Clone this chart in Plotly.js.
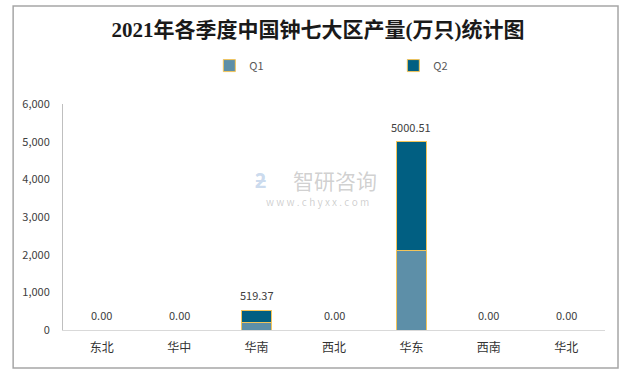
<!DOCTYPE html>
<html>
<head>
<meta charset="utf-8">
<script src="https://cdn.plot.ly/plotly-3.0.1.min.js"></script>
<style>html,body{margin:0;padding:0;background:#fff;}#chart{width:636px;height:373px;}</style>
</head>
<body>
<div id="chart"></div>
<script>
const regions = ['东北', '华中', '华南', '西北', '华东', '西南', '华北'];
const q1 = [0, 0, 190, 0, 2100, 0, 0];
const q2 = [0, 0, 329.37, 0, 2900.51, 0, 0];
const totals = [0, 0, 519.37, 0, 5000.51, 0, 0];
const yTicks = [0, 1000, 2000, 3000, 4000, 5000, 6000];

const sansFont = 'Noto Sans CJK SC, Noto Sans, sans-serif';

const traces = [
  {
    type: 'bar', name: 'Q1', x: regions, y: q1,
    marker: {color: '#5d8fa8', line: {color: '#f2c45a', width: 1}},
    hoverinfo: 'skip'
  },
  {
    type: 'bar', name: 'Q2', x: regions, y: q2,
    marker: {color: '#015f82', line: {color: '#f2c45a', width: 1}},
    hoverinfo: 'skip'
  }
];

const labelAnnotations = regions.map((r, i) => ({
  xref: 'x', yref: 'y', x: r, y: totals[i],
  text: totals[i].toFixed(2), showarrow: false,
  xanchor: 'center', yanchor: 'middle', yshift: 15,
  font: {family: sansFont, size: 11, color: '#404040'}
}));

const layout = {
  width: 636, height: 373,
  paper_bgcolor: '#ffffff', plot_bgcolor: '#ffffff',
  margin: {l: 63, r: 31, t: 104, b: 43},
  barmode: 'stack',
  bargap: 0.61,
  showlegend: true,
  title: {
    text: '<b>2021年各季度中国钟七大区产量(万只)统计图</b>',
    x: 0.5, xanchor: 'center', xref: 'container',
    y: 0.92, yanchor: 'middle', yref: 'container',
    font: {family: 'Liberation Serif, Noto Sans CJK SC, serif', size: 21, color: '#1a1a1a'}
  },
  legend: {
    orientation: 'h', x: 0.27, xanchor: 'left', y: 1.17, yanchor: 'middle',
    entrywidth: 139, entrywidthmode: 'pixels',
    font: {family: sansFont, size: 11, color: '#595959'},
    bgcolor: 'rgba(0,0,0,0)', itemclick: false, traceorder: 'normal'
  },
  xaxis: {
    type: 'category',
    showgrid: false, zeroline: false,
    showline: true, linecolor: '#d9d9d9', linewidth: 1,
    ticks: '', ticklabelstandoff: 7,
    tickfont: {family: sansFont, size: 12, color: '#333333'}
  },
  yaxis: {
    range: [0, 6000], tickvals: yTicks, tickformat: ',',
    showgrid: false, zeroline: false,
    showline: true, linecolor: '#bfbfbf', linewidth: 1,
    ticks: '', ticklabelstandoff: 10,
    tickfont: {family: sansFont, size: 11, color: '#404040'}
  },
  shapes: [
    {type: 'rect', xref: 'paper', yref: 'paper',
     x0: -0.092, x1: 1.024, y0: -0.168, y1: 1.434,
     line: {color: '#a6a6a6', width: 1.5}, fillcolor: 'rgba(0,0,0,0)', layer: 'below'}
  ],
  annotations: labelAnnotations.concat([
    {xref: 'paper', yref: 'paper', x: 0.365, y: 0.664, xanchor: 'center', yanchor: 'middle',
     text: '<b>ƻ</b>', showarrow: false, borderpad: 0,
     font: {family: sansFont, size: 20, color: 'rgba(120,160,210,0.4)'}},
    {xref: 'paper', yref: 'paper', x: 0.502, y: 0.664, xanchor: 'center', yanchor: 'middle',
     text: '智研咨询', showarrow: false, borderpad: 0,
     font: {family: sansFont, size: 21, color: 'rgba(150,150,150,0.45)'}},
    {xref: 'paper', yref: 'paper', x: 0.47, y: 0.569, xanchor: 'center', yanchor: 'middle',
     text: 'w w w . c h y x x . c o m', showarrow: false, borderpad: 0,
     font: {family: sansFont, size: 10, color: 'rgba(150,150,150,0.45)'}}
  ])
};

Plotly.newPlot('chart', traces, layout, {displayModeBar: false, staticPlot: true});
</script>
</body>
</html>
